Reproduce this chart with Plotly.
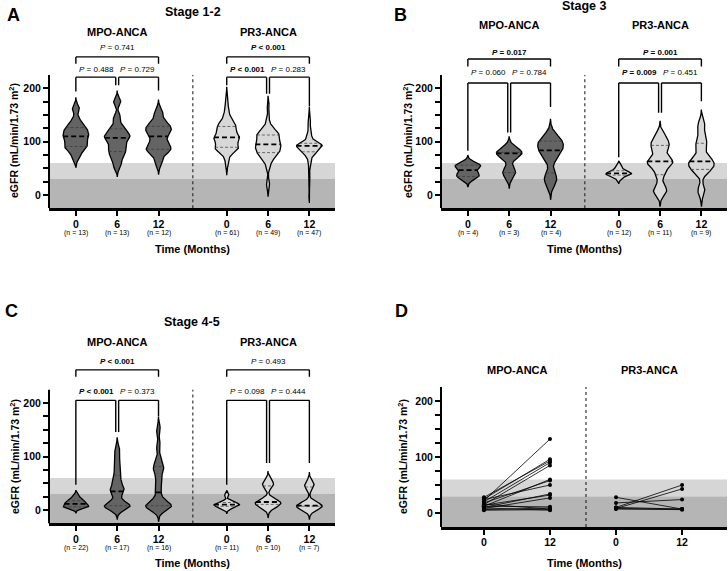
import numpy as np
import plotly.graph_objects as go

W, H = 728, 571

# ---------------- data ----------------
time_3 = ["0", "6", "12"]
time_2 = ["0", "12"]

# Panel A, Stage 1-2 (eGFR samples)
a_mpo_0 = [72, 85, 90, 92, 100, 106, 110, 114, 119, 125, 128, 140, 162]
a_mpo_6 = [55, 70, 78, 85, 92, 100, 107, 110, 113, 120, 128, 145, 175]
a_mpo_12 = [62, 80, 85, 88, 95, 105, 115, 120, 125, 130, 138, 155]
a_pr3_0 = [55, 65, 72, 76, 79, 81, 83, 84, 85, 86, 87, 88, 88, 89, 89,
           90,
           92, 94, 95, 97, 98, 100, 101, 102, 103, 104, 105, 106, 107, 107,
           108,
           109, 110, 111, 112, 113, 115, 116, 118, 119, 120, 122, 124, 125, 127,
           128,
           129, 130, 131, 132, 134, 136, 138, 141, 144, 148, 152, 158, 165, 175, 185]
a_pr3_6 = [15, 25, 50, 58, 63, 67, 70, 72, 74, 76, 77, 79,
           80,
           81, 82, 84, 85, 86, 88, 89, 90, 92, 93, 94,
           95,
           96, 97, 98, 100, 101, 103, 104, 106, 108, 109, 111,
           112,
           113, 114, 115, 116, 118, 120, 122, 125, 128, 132, 145, 168]
a_pr3_12 = [0, 30, 52, 62, 68, 72, 75, 77, 78, 79, 80, 81,
            82, 83, 84, 85, 86, 87, 88, 89, 90, 90, 91,
            92,
            92, 92, 93, 93, 93, 94, 94, 95, 95, 95, 96,
            97, 98, 100, 102, 105, 108, 112, 116, 120, 133, 138, 150]
a_n_mpo = [13, 13, 12]
a_n_pr3 = [61, 49, 47]
a_p_mpo = ["= 0.488", "= 0.729", "= 0.741"]
a_p_pr3 = ["< 0.001", "= 0.283", "< 0.001"]

# Panel B, Stage 3
b_mpo_0 = [33, 40, 53, 57]
b_mpo_6 = [42, 78, 80]
b_mpo_12 = [30, 75, 92, 104]
b_pr3_0 = [30, 35, 37, 38, 39, 40, 41, 42, 44, 46, 50, 55]
b_pr3_6 = [5, 12, 38, 55, 60, 63, 68, 85, 93, 100, 112]
b_pr3_12 = [8, 45, 51, 58, 63, 68, 90, 104, 130]
b_n_mpo = [4, 3, 4]
b_n_pr3 = [12, 11, 9]
b_p_mpo = ["= 0.060", "= 0.784", "= 0.017"]
b_p_pr3 = ["= 0.009", "= 0.451", "= 0.001"]

# Panel C, Stage 4-5
c_mpo_0 = [3, 4, 5, 5, 6, 6, 7, 8, 9, 10, 11, 12, 13, 14, 15, 16, 17, 18, 20, 22, 25, 28]
c_mpo_6 = [3, 5, 6, 7, 9, 10, 15, 28, 35, 38, 42, 50, 60, 70, 85, 100, 115]
c_mpo_12 = [2, 4, 6, 8, 8, 10, 14, 25, 41, 55, 70, 78, 82, 95, 120, 150]
c_pr3_0 = [2, 5, 7, 8, 9, 10, 11, 12, 14, 16, 28]
c_pr3_6 = [3, 9, 11, 12, 14, 16, 20, 44, 48, 55]
c_pr3_12 = [3, 7, 7.5, 8, 10, 43, 50]
c_n_mpo = [22, 17, 16]
c_n_pr3 = [11, 10, 7]
c_p_mpo = ["< 0.001", "= 0.373", "< 0.001"]
c_p_pr3 = ["= 0.098", "= 0.444", "= 0.493"]

# Panel D, paired values (0 -> 12 months)
d_mpo_0 = [22, 25, 28, 20, 15, 12, 18, 24, 10, 14, 8, 12, 6, 16, 5, 9]
d_mpo_12 = [132, 96, 93, 90, 85, 60, 58, 50, 34, 32, 27, 11, 9, 7, 6, 5]
d_pr3_0 = [28, 18, 10, 8, 8, 10, 7]
d_pr3_12 = [7, 24, 50, 43, 7, 7, 6]

# ---------------- style ----------------
FONT = "Arial, 'Liberation Sans', Helvetica, sans-serif"
MPO_FILL = "#646464"
PR3_FILL = "#d8d8d8"
BAND_LIGHT = "#d6d6d6"
BAND_DARK = "#b5b5b5"
POS_MPO = [0, 1, 2]
POS_PR3 = [3.65, 4.65, 5.65]
DIVIDER = 2.83
HALF_W = 0.31
DX = 0.035

fig = go.Figure()
shapes = []
annots = []


def py2paper(py):
    return 1 - py / H


def px2paper(px):
    return px / W


def kde_curve(vals, bw, npts=300):
    v = np.asarray(vals, dtype=float)
    t = np.linspace(v.min() - 3 * bw, v.max() + 3 * bw, npts)
    d = np.exp(-0.5 * ((t[:, None] - v[None, :]) / bw) ** 2).sum(axis=1)
    return t, d, d.max()


def dens_at(vals, bw, y, dmax):
    v = np.asarray(vals, dtype=float)
    return np.exp(-0.5 * ((y - v) / bw) ** 2).sum() / dmax


def add_violin(vals, pos, bw, fill, xr, yr):
    t, d, dmax = kde_curve(vals, bw)
    hw = HALF_W * d / dmax
    xs = np.concatenate([pos + hw, (pos - hw)[::-1], [pos + hw[0]]])
    ys = np.concatenate([t, t[::-1], [t[0]]])
    fig.add_trace(go.Scatter(x=xs, y=ys, mode="lines", fill="toself", fillcolor=fill,
                             line=dict(color="black", width=1.3), xaxis=xr, yaxis=yr,
                             hoverinfo="skip", showlegend=False))
    q1, med, q3 = np.percentile(np.asarray(vals, float), [25, 50, 75], method="weibull")
    for q, style in ((q1, "q"), (q3, "q"), (med, "m")):
        w = HALF_W * dens_at(vals, bw, q, dmax)
        if style == "m":
            line = dict(color="black", width=1.8, dash="5px,3px")
        else:
            line = dict(color="#3a3a3a", width=0.7, dash="3px,2px")
        fig.add_trace(go.Scatter(x=[pos - w, pos + w], y=[q, q], mode="lines", line=line,
                                 xaxis=xr, yaxis=yr, hoverinfo="skip", showlegend=False))


def line_shape(xr, yr, x0, y0, x1, y1, width=1.4, color="black", dash=None, layer="above"):
    ln = dict(color=color, width=width)
    if dash:
        ln["dash"] = dash
    shapes.append(dict(type="line", xref=xr, yref=yr, x0=x0, y0=y0, x1=x1, y1=y1,
                       line=ln, layer=layer))


def p_text(s):
    val = s.replace("<", "&lt;")
    txt = "<i>P</i> " + val
    if s.startswith("<") or float(s.split()[-1]) < 0.05:
        txt = "<b>" + txt + "</b>"
    return txt


def add_brackets(xr, yr, pos, pvals, cfg):
    a, b, c = pos
    line_shape(xr, yr, a, cfg["top"], c, cfg["top"])
    line_shape(xr, yr, a, cfg["top"], a, cfg["top_leg"])
    line_shape(xr, yr, c, cfg["top"], c, cfg["top_leg"])
    lo = cfg["low"]
    l0, l6, l12 = cfg["legs"]
    line_shape(xr, yr, a, lo, b - DX, lo)
    line_shape(xr, yr, a, lo, a, l0)
    line_shape(xr, yr, b - DX, lo, b - DX, l6)
    line_shape(xr, yr, b + DX, lo, c, lo)
    line_shape(xr, yr, b + DX, lo, b + DX, l6)
    line_shape(xr, yr, c, lo, c, l12)
    fs = 8
    for xx, yy, s in (((a + b) / 2, cfg["low_label"], pvals[0]),
                      ((b + c) / 2, cfg["low_label"], pvals[1]),
                      ((a + c) / 2, cfg["top_label"], pvals[2])):
        annots.append(dict(x=xx, y=yy, xref=xr, yref=yr, text=p_text(s),
                           showarrow=False, xanchor="center", yanchor="middle", borderpad=0,
                           font=dict(size=fs, family=FONT, color="black")))


def text(px, py, s, size, bold=True, angle=0):
    annots.append(dict(x=px2paper(px), y=py2paper(py), xref="paper", yref="paper",
                       text=("<b>%s</b>" % s) if bold else s, showarrow=False, textangle=angle,
                       xanchor="center", yanchor="middle", borderpad=0,
                       font=dict(size=size, family=FONT, color="black")))


def setup_axes(n, xdom_px, y0px, scale, yrange, xrange, tickvals, ticktext):
    top_px = y0px - yrange[1] * scale
    bot_px = y0px - yrange[0] * scale
    sfx = "" if n == 1 else str(n)
    fig.layout["xaxis" + sfx] = dict(
        domain=[px2paper(xdom_px[0]), px2paper(xdom_px[1])], range=xrange,
        anchor="y" + sfx, showline=True, linecolor="black", linewidth=2.5,
        ticks="outside", ticklen=5, tickwidth=2, tickcolor="black",
        tickvals=tickvals, ticktext=ticktext, showgrid=False, zeroline=False,
        ticklabelstandoff=-1,
        tickfont=dict(size=10.5, family=FONT, color="black", weight="bold"), fixedrange=True)
    fig.layout["yaxis" + sfx] = dict(
        domain=[py2paper(bot_px), py2paper(top_px)], range=list(yrange),
        anchor="x" + sfx, showline=False, ticks="outside", ticklen=5, tickwidth=1.5,
        tickcolor="black", tickvals=[0, 100, 200], ticktext=["0", "100", "200"],
        minor=dict(tickvals=[25, 50, 75, 125, 150, 175], ticks="outside", ticklen=5,
                   tickwidth=1.5, tickcolor="black", showgrid=False),
        showgrid=False, zeroline=False,
        tickfont=dict(size=10.5, family=FONT, color="black", weight="bold"), fixedrange=True)
    xr, yr = "x" + sfx, "y" + sfx
    shapes.append(dict(type="rect", xref=xr + " domain", yref=yr, x0=0, x1=1, y0=-25, y1=30,
                       fillcolor=BAND_DARK, line=dict(width=0), layer="below"))
    shapes.append(dict(type="rect", xref=xr + " domain", yref=yr, x0=0, x1=1, y0=30, y1=60,
                       fillcolor=BAND_LIGHT, line=dict(width=0), layer="below"))
    shapes.append(dict(type="line", xref=xr + " domain", yref=yr, x0=0, x1=0, y0=-25, y1=225,
                       line=dict(color="black", width=2), layer="above"))
    return xr, yr


violin_panels = [
    dict(n=1, xdom=(49, 335), y0=195, scale=0.5333, letter=("A", 13, 15),
         stage=("Stage 1-2", 193, 12), grp_y=32, n_py=233, time_py=249, ytitle=(13, 141),
         mpo=[a_mpo_0, a_mpo_6, a_mpo_12], pr3=[a_pr3_0, a_pr3_6, a_pr3_12],
         n_mpo=a_n_mpo, n_pr3=a_n_pr3, p_mpo=a_p_mpo, p_pr3=a_p_pr3,
         bw_mpo=[7, 7, 8], bw_pr3=[6, 6, 5],
         br_mpo=dict(top_label=276, top=259, top_leg=246, low_label=236, low=221, legs=[194, 206, 196]),
         br_pr3=dict(top_label=276, top=259, top_leg=246, low_label=236, low=221, legs=[206, 190, 166])),
    dict(n=2, xdom=(441, 727), y0=195, scale=0.5333, letter=("B", 400, 15),
         stage=("Stage 3", 584, 6), grp_y=25, n_py=233, time_py=249, ytitle=(407, 141),
         mpo=[b_mpo_0, b_mpo_6, b_mpo_12], pr3=[b_pr3_0, b_pr3_6, b_pr3_12],
         n_mpo=b_n_mpo, n_pr3=b_n_pr3, p_mpo=b_p_mpo, p_pr3=b_p_pr3,
         bw_mpo=[6, 10, 13], bw_pr3=[3, 9, 10],
         br_mpo=dict(top_label=268, top=255, top_leg=241, low_label=229, low=210, legs=[83, 117, 165]),
         br_pr3=dict(top_label=268, top=255, top_leg=241, low_label=229, low=210, legs=[71, 154, 176])),
    dict(n=3, xdom=(49, 335), y0=510, scale=0.535, letter=("C", 11, 311),
         stage=("Stage 4-5", 192, 322), grp_y=342, n_py=548, time_py=563, ytitle=(14, 457),
         mpo=[c_mpo_0, c_mpo_6, c_mpo_12], pr3=[c_pr3_0, c_pr3_6, c_pr3_12],
         n_mpo=c_n_mpo, n_pr3=c_n_pr3, p_mpo=c_p_mpo, p_pr3=c_p_pr3,
         bw_mpo=[3, 7, 8], bw_pr3=[3, 6, 7],
         br_mpo=dict(top_label=278, top=262, top_leg=249, low_label=221, low=205, legs=[47, 146, 175]),
         br_pr3=dict(top_label=278, top=262, top_leg=249, low_label=221, low=205, legs=[47, 88, 88])),
]

for p in violin_panels:
    xr, yr = setup_axes(p["n"], p["xdom"], p["y0"], p["scale"], (-25, 300), (-0.65, 6.27),
                        POS_MPO + POS_PR3, time_3 + time_3)
    for vals, pos, bw in zip(p["mpo"], POS_MPO, p["bw_mpo"]):
        add_violin(vals, pos, bw, MPO_FILL, xr, yr)
    for vals, pos, bw in zip(p["pr3"], POS_PR3, p["bw_pr3"]):
        add_violin(vals, pos, bw, PR3_FILL, xr, yr)
    line_shape(xr, yr, DIVIDER, -25, DIVIDER, 225, width=1.1, color="#222", dash="dot")
    add_brackets(xr, yr, POS_MPO, p["p_mpo"], p["br_mpo"])
    add_brackets(xr, yr, POS_PR3, p["p_pr3"], p["br_pr3"])
    for pos, nn in zip(POS_MPO + POS_PR3, p["n_mpo"] + p["n_pr3"]):
        annots.append(dict(x=pos, y=py2paper(p["n_py"]), xref=xr, yref="paper",
                           text="(n = %d)" % nn, showarrow=False,
                           xanchor="center", yanchor="middle", borderpad=0,
                           font=dict(size=7, family=FONT, color="black")))
    L, lx, ly = p["letter"]
    text(lx, ly, L, 18)
    s, sx, sy = p["stage"]
    text(sx, sy, s, 12.5)
    x0px = p["xdom"][0]
    pxu = (p["xdom"][1] - p["xdom"][0]) / 6.92
    text(x0px + (0.65 + 1) * pxu, p["grp_y"], "MPO-ANCA", 11)
    text(x0px + (0.65 + 4.65) * pxu, p["grp_y"], "PR3-ANCA", 11)
    text(x0px + (0.65 + DIVIDER) * pxu, p["time_py"], "Time (Months)", 11)
    text(p["ytitle"][0], p["ytitle"][1], "eGFR (mL/min/1.73 m<sup>2</sup>)", 10.5, angle=-90)

# ---------------- panel D ----------------
POS_D_MPO = [0, 1]
POS_D_PR3 = [2, 3]
DIV_D = 1.545
xr, yr = setup_axes(4, (441, 727), 513, 0.56, (-25, 225), (-0.65, 3.68),
                    POS_D_MPO + POS_D_PR3, time_2 + time_2)
for v0, v12 in zip(d_mpo_0, d_mpo_12):
    fig.add_trace(go.Scatter(x=POS_D_MPO, y=[v0, v12], mode="lines+markers",
                             line=dict(color="black", width=0.8), marker=dict(size=4, color="black"),
                             xaxis=xr, yaxis=yr, hoverinfo="skip", showlegend=False))
for v0, v12 in zip(d_pr3_0, d_pr3_12):
    fig.add_trace(go.Scatter(x=POS_D_PR3, y=[v0, v12], mode="lines+markers",
                             line=dict(color="black", width=0.8), marker=dict(size=4, color="black"),
                             xaxis=xr, yaxis=yr, hoverinfo="skip", showlegend=False))
line_shape(xr, yr, DIV_D, -25, DIV_D, 225, width=1.1, color="#222", dash="dot")
text(401, 311, "D", 18)
text(517, 370, "MPO-ANCA", 11)
text(649, 370, "PR3-ANCA", 11)
text(584, 563, "Time (Months)", 11)
text(402, 457, "eGFR (mL/min/1.73 m<sup>2</sup>)", 10.5, angle=-90)

fig.update_layout(width=W, height=H, margin=dict(l=0, r=0, t=0, b=0),
                  paper_bgcolor="white", plot_bgcolor="white",
                  shapes=shapes, annotations=annots, showlegend=False,
                  font=dict(family=FONT, color="black"))

fig.write_html("out.html", config={"displayModeBar": False},
               post_script="document.body.style.margin='0';document.body.style.overflow='hidden';")
